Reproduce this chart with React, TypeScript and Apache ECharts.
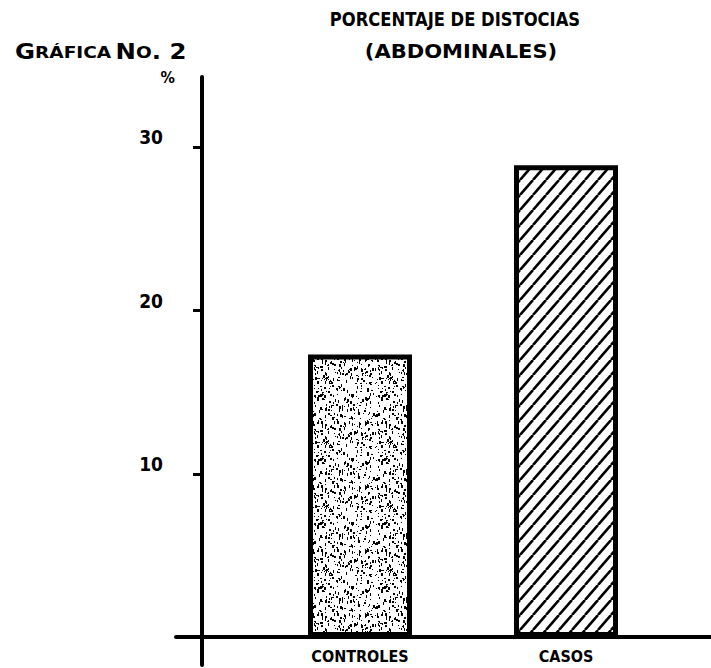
import React, { useEffect, useRef } from 'react';
import * as echarts from 'echarts';

const CATEGORIES = ['CONTROLES', 'CASOS'];
const VALUES = [17.3, 28.9];
const Y_TICKS = [10, 20, 30];
const Y_MIN = -1.7;
const Y_MAX = 34.3;
const TITLE = 'PORCENTAJE DE DISTOCIAS';
const SUBTITLE = '(ABDOMINALES)';
const Y_UNIT = '%';

const FONT = '"DejaVu Sans Condensed", "DejaVu Sans", sans-serif';

function hash(n: number) {
  const s = Math.sin(n * 12.9898 + 78.233) * 43758.5453;
  return s - Math.floor(s);
}

function makeStipple() {
  const size = 64;
  const c = document.createElement('canvas');
  c.width = size;
  c.height = size;
  const ctx = c.getContext('2d')!;
  ctx.fillStyle = '#fff';
  ctx.fillRect(0, 0, size, size);
  ctx.fillStyle = '#000';
  for (let i = 0; i < 300; i++) {
    const x = Math.floor(hash(i * 3 + 1) * size);
    const y = Math.floor(hash(i * 3 + 2) * size);
    const w = hash(i * 5 + 3) < 0.65 ? 1 : 2;
    const h = 1 + Math.floor(hash(i * 7 + 5) * 3);
    ctx.fillRect(x, y, w, h);
  }
  return c;
}

function makeHatch() {
  const w = 13;
  const h = 15;
  const c = document.createElement('canvas');
  c.width = w;
  c.height = h;
  const ctx = c.getContext('2d')!;
  ctx.fillStyle = '#fff';
  ctx.fillRect(0, 0, w, h);
  ctx.strokeStyle = '#000';
  ctx.lineWidth = 2.6;
  for (const dx of [-w, 0, w]) {
    ctx.beginPath();
    ctx.moveTo(dx, h);
    ctx.lineTo(dx + w, 0);
    ctx.stroke();
  }
  return c;
}

export default function App() {
  const ref = useRef<HTMLDivElement>(null);
  useEffect(() => {
    if (!ref.current) return;
    const chart = echarts.init(ref.current, null, { renderer: 'svg' });
    const stipple = makeStipple();
    const hatch = makeHatch();
    const patterns = [
      { image: stipple, repeat: 'repeat', imageWidth: stipple.width, imageHeight: stipple.height },
      { image: hatch, repeat: 'repeat', imageWidth: hatch.width, imageHeight: hatch.height },
    ];
    const option: any = {
      animation: false,
      backgroundColor: '#fff',
      grid: [
        { left: 176, right: 0, top: 77, bottom: 3, outerBoundsMode: 'none' },
        { left: 257, right: 42, top: 77, bottom: 31, outerBoundsMode: 'none' },
      ],
      xAxis: [
        {
          type: 'value',
          gridIndex: 0,
          min: 0,
          max: 1,
          axisLine: { show: true, onZero: true, lineStyle: { color: '#000', width: 4 } },
          axisTick: { show: false },
          axisLabel: { show: false },
          splitLine: { show: false },
        },
        {
          type: 'category',
          gridIndex: 1,
          data: CATEGORIES,
          axisLine: { show: false },
          axisTick: { show: false },
          axisLabel: {
            margin: 11,
            fontFamily: FONT,
            fontWeight: 'bold',
            fontSize: 16,
            color: '#000',
          },
          splitLine: { show: false },
        },
      ],
      yAxis: [
        {
          type: 'value',
          gridIndex: 0,
          min: Y_MIN,
          max: Y_MAX,
          offset: -26,
          name: Y_UNIT,
          nameLocation: 'end',
          nameGap: 0,
          nameTextStyle: {
            fontFamily: FONT,
            fontWeight: 'bold',
            fontSize: 16,
            color: '#000',
            align: 'right',
            verticalAlign: 'middle',
            padding: [4, 27, 0, 0],
          },
          axisLine: { show: true, lineStyle: { color: '#000', width: 4 } },
          axisTick: {
            show: true,
            length: 9,
            customValues: Y_TICKS,
            lineStyle: { color: '#000', width: 3 },
          },
          axisLabel: {
            customValues: Y_TICKS,
            margin: 39,
            fontFamily: FONT,
            fontWeight: 'bold',
            fontSize: 19,
            lineHeight: 20,
            color: '#000',
            verticalAlign: 'bottom',
          },
          splitLine: { show: false },
        },
        {
          type: 'value',
          gridIndex: 1,
          min: 0,
          max: Y_MAX,
          show: false,
          splitLine: { show: false },
        },
      ],
      series: [
        {
          type: 'bar',
          xAxisIndex: 1,
          yAxisIndex: 1,
          barWidth: 104,
          data: VALUES.map((v, i) => ({ value: v, itemStyle: { color: patterns[i] } })),
          itemStyle: { borderColor: '#000', borderWidth: 5 },
        },
      ],
      graphic: [
        {
          type: 'text',
          x: 455,
          y: 19,
          scaleX: 0.91,
          style: {
            text: TITLE,
            fontFamily: FONT,
            fontWeight: 'bold',
            fontSize: 20,
            fill: '#000',
            align: 'center',
            verticalAlign: 'middle',
          },
        },
        {
          type: 'text',
          x: 461,
          y: 51,
          scaleX: 1.17,
          style: {
            text: SUBTITLE,
            fontFamily: FONT,
            fontWeight: 'bold',
            fontSize: 20,
            fill: '#000',
            align: 'center',
            verticalAlign: 'middle',
          },
        },
        {
          type: 'text',
          x: 15,
          y: 52,
          scaleX: 1.29,
          style: {
            text: '{b|G}{s|RÁFICA} {b|N}{s|O}{b|. 2}',
            fill: '#000',
            verticalAlign: 'middle',
            rich: {
              b: { fontFamily: FONT, fontWeight: 'bold', fontSize: 21, fill: '#000' },
              s: { fontFamily: FONT, fontWeight: 'bold', fontSize: 16, fill: '#000' },
            },
          },
        },
      ],
    };
    chart.setOption(option);
    return () => chart.dispose();
  }, []);
  return (
    <div
      ref={ref}
      style={{ position: 'absolute', left: 0, top: 0, width: 711, height: 668 }}
    />
  );
}
